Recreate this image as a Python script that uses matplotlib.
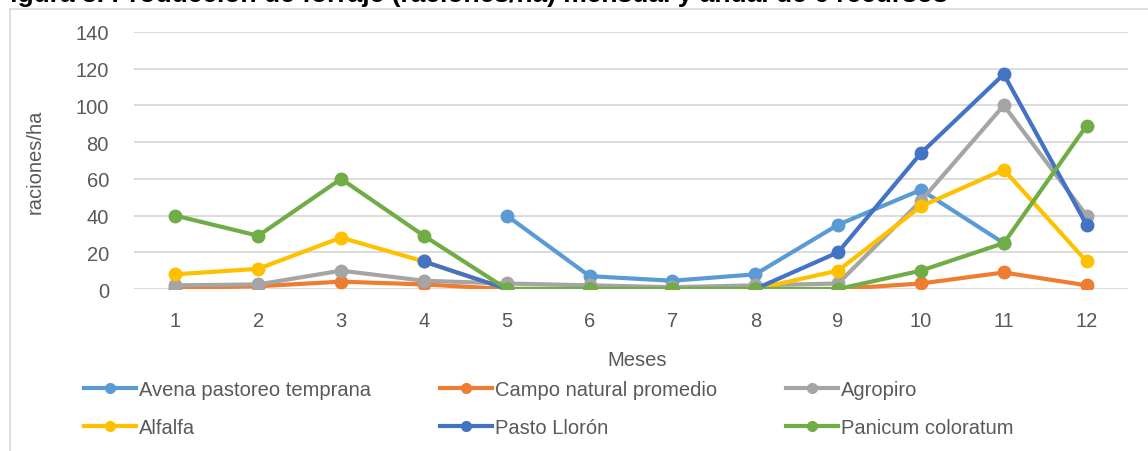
import numpy as np
import matplotlib
matplotlib.use("Agg")
import matplotlib.pyplot as plt
from matplotlib.lines import Line2D
from matplotlib.patches import Rectangle

plt.rcParams['font.family'] = ['Liberation Sans', 'DejaVu Sans']

# datos (raciones/ha por mes)
meses = np.arange(1, 13)
nan = np.nan
avena = [nan, nan, nan, nan, 40, 7, 4.5, 8, 35, 54, 25, nan]
campo = [0.5, 1.5, 4, 2.5, 0, 0, 0, 0, 0, 3, 9, 2]
agropiro = [2, 2.5, 10, 4.5, 3, 2, 1, 2, 3, 48, 100, 40]
alfalfa = [8, 11, 28, 15, 0, 0, 0, 0, 10, 45, 65, 15]
pasto = [nan, nan, nan, 15, 0, 0, 0, 0, 20, 74, 117, 35]
panicum = [40, 29, 60, 29, 0, 0, 0, 0, 0, 10, 25, 89]

nombres = ['Avena pastoreo temprana', 'Campo natural promedio', 'Agropiro',
           'Alfalfa', 'Pasto Llorón', 'Panicum coloratum']
colores = ['#5B9BD5', '#ED7D31', '#A5A5A5', '#FFC000', '#4472C4', '#70AD47']
series = [avena, campo, agropiro, alfalfa, pasto, panicum]

txt = '#595959'

fig = plt.figure(figsize=(11.48, 4.52), dpi=100)
ax = fig.add_axes([0.1167, 0.3584, 0.8659, 0.5686])

for vals, nom, col in zip(series, nombres, colores):
    ax.plot(meses, vals, color=col, linewidth=3, marker='o',
            markersize=9, label=nom, solid_capstyle='round')

ax.set_xlim(0.5, 12.5)
ax.set_ylim(0, 140)
ax.set_yticks(np.arange(0, 141, 20))
ax.set_xticks(meses)
ax.grid(axis='y', color='#D9D9D9', linewidth=1.3)
ax.set_axisbelow(True)
for s in ax.spines.values():
    s.set_visible(False)
ax.tick_params(length=0, labelsize=14.5, colors=txt)
ax.tick_params(axis='y', pad=18)
ax.tick_params(axis='x', pad=16)

ax.set_ylabel('raciones/ha', fontsize=14.5, color=txt, labelpad=22)
fig.text(637 / 1148, 1 - 361 / 452, 'Meses', fontsize=14.5, color=txt,
         ha='center', va='center')

# leyenda en 3 columnas (se llena por columnas)
orden = [0, 3, 1, 4, 2, 5]
leg_h = [Line2D([0], [0], color=colores[i], linewidth=3, marker='o',
                markersize=7) for i in orden]
fig.legend(leg_h, [nombres[i] for i in orden], ncol=3, frameon=False,
           loc='upper left', bbox_to_anchor=(84 / 1148, 1 - 381 / 452),
           fontsize=14.5, labelcolor=txt, handlelength=2.6,
           handletextpad=0.15, columnspacing=3.4, labelspacing=0.95,
           borderpad=0, borderaxespad=0)

# marco del area del grafico
fig.patches.append(Rectangle((10 / 1148, -0.1), 1.2, 1 - 10 / 452 + 0.1,
                             transform=fig.transFigure, fill=False,
                             edgecolor='#D9D9D9', linewidth=1.2))

# titulo (queda cortado en el borde superior, como en la figura original)
fig.text(-0.005, 1 - 2 / 452,
         'Figura 3. Producción de forraje (raciones/ha) mensual y anual de 6 recursos',
         fontsize=19, fontweight='bold', color='black', ha='left', va='baseline')

fig.savefig('out.png', dpi=100)
